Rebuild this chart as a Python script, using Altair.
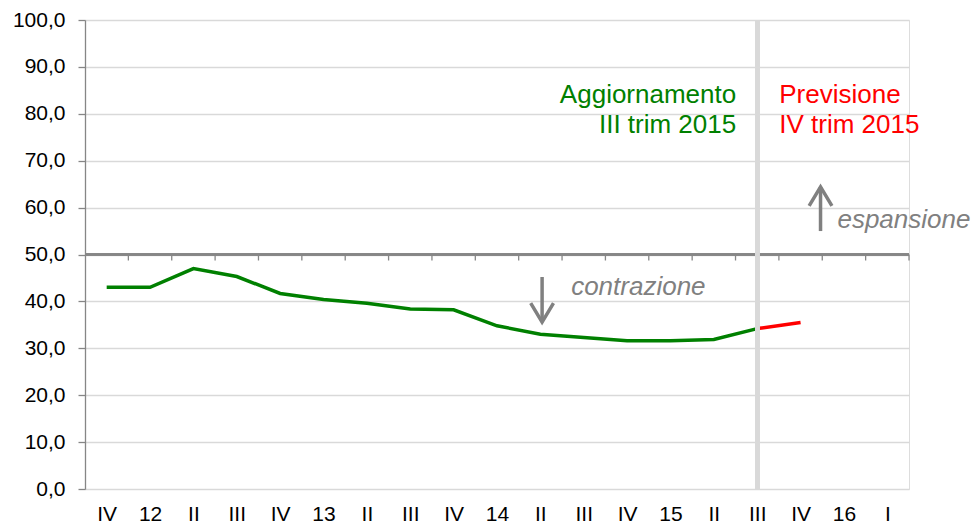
import json
import altair as alt
import pandas as pd

# ---- data ----
labels = ["IV", "12", "II", "III", "IV", "13", "II", "III", "IV", "14",
          "II", "III", "IV", "15", "II", "III", "IV", "16", "I"]
green_values = [43.0, 43.0, 47.0, 45.3, 41.7, 40.4, 39.6, 38.4, 38.2, 34.8,
                33.0, 32.3, 31.6, 31.6, 31.9, 34.2]
red_idx = [15, 16]
red_values = [34.2, 35.5]
y_ticks = [0, 10, 20, 30, 40, 50, 60, 70, 80, 90, 100]
split_idx = 15

FONT = "Liberation Sans"
W, H = 824, 469
TICK_PX = 6

green_df = pd.DataFrame({"i": list(range(len(green_values))), "v": green_values})
red_df = pd.DataFrame({"i": red_idx, "v": red_values})
bound_df = pd.DataFrame({"b": [i + 0.5 for i in range(len(labels))]})

text_df = pd.DataFrame({
    "t": ["Aggiornamento", "III trim 2015", "Previsione", "IV trim 2015"],
    "x": [split_idx] * 4,
    "y": [82.2, 75.8, 82.2, 75.8],
    "c": ["#008000", "#008000", "#ff0000", "#ff0000"],
    "align": ["right", "right", "left", "left"],
})
italic_df = pd.DataFrame({"t": ["contrazione", "espansione"], "x": [10.71, 16.85], "y": [41.4, 55.6]})
shaft_df = pd.DataFrame({"x": [10.04, 16.46], "y1": [45.2, 55.0], "y2": [35.6, 64.4]})
down_head = pd.DataFrame({"x": [10.04], "y": [35.6]})
up_head = pd.DataFrame({"x": [16.46], "y": [64.4]})

xscale = alt.Scale(domain=[-0.5, len(labels) - 0.5], nice=False, zero=False)
yscale = alt.Scale(domain=[0, 100], nice=False)

label_expr = json.dumps(labels) + "[datum.value]"

base_x = alt.X("i:Q", scale=xscale,
               axis=alt.Axis(values=list(range(len(labels))), labelExpr=label_expr,
                             grid=False, domain=False, ticks=False, labelPadding=14,
                             labelFont=FONT, labelFontSize=21, labelColor="#000000",
                             title=None, labelFlush=False))
base_y = alt.Y("v:Q", scale=yscale,
               axis=alt.Axis(values=y_ticks,
                             labelExpr="replace(format(datum.value, '.1f'), '.', ',')",
                             grid=True, gridColor="#d9d9d9", gridWidth=1.3,
                             domain=True, domainColor="#868686", domainWidth=1.3,
                             ticks=True, tickColor="#868686", tickSize=7, tickWidth=1.3,
                             labelPadding=13, labelFont=FONT, labelFontSize=21,
                             labelColor="#000000", title=None))

green = alt.Chart(green_df).mark_line(color="#008000", strokeWidth=3.5).encode(x=base_x, y=base_y)
red = alt.Chart(red_df).mark_line(color="#ff0000", strokeWidth=3.5).encode(
    x=alt.X("i:Q", scale=xscale), y=alt.Y("v:Q", scale=yscale))

axis50 = alt.Chart(bound_df).mark_rule(color="#868686", strokeWidth=1.5).encode(
    y=alt.datum(50, scale=yscale), x=alt.value(0), x2=alt.value(W))
ticks50 = alt.Chart(bound_df).mark_rule(color="#868686", strokeWidth=1.3).encode(
    x=alt.X("b:Q", scale=xscale), y=alt.datum(50, scale=yscale),
    y2=alt.datum(50 - TICK_PX * 100 / H))

split = alt.Chart(bound_df).mark_rule(color="#d9d9d9", strokeWidth=4).encode(
    x=alt.datum(split_idx, scale=xscale), y=alt.value(0), y2=alt.value(H))

texts_r = alt.Chart(text_df[text_df["align"] == "right"]).mark_text(
    align="right", baseline="alphabetic", font=FONT, fontSize=26, dx=-21).encode(
    x=alt.X("x:Q", scale=xscale), y=alt.Y("y:Q", scale=yscale),
    text="t:N", color=alt.Color("c:N", scale=None))
texts_l = alt.Chart(text_df[text_df["align"] == "left"]).mark_text(
    align="left", baseline="alphabetic", font=FONT, fontSize=26, dx=22).encode(
    x=alt.X("x:Q", scale=xscale), y=alt.Y("y:Q", scale=yscale),
    text="t:N", color=alt.Color("c:N", scale=None))
italics = alt.Chart(italic_df).mark_text(
    align="left", baseline="alphabetic", font=FONT, fontSize=26, fontStyle="italic",
    color="#808080").encode(
    x=alt.X("x:Q", scale=xscale), y=alt.Y("y:Q", scale=yscale), text="t:N")

shafts = alt.Chart(shaft_df).mark_rule(color="#808080", strokeWidth=3.5).encode(
    x=alt.X("x:Q", scale=xscale), y=alt.Y("y1:Q", scale=yscale), y2="y2:Q")
head_d = alt.Chart(down_head).mark_point(
    shape="M -0.6,-1 L 0,0 L 0.6,-1", filled=False, size=1444, strokeWidth=3.5,
    color="#808080", opacity=1).encode(x=alt.X("x:Q", scale=xscale), y=alt.Y("y:Q", scale=yscale))
head_u = alt.Chart(up_head).mark_point(
    shape="M -0.6,1 L 0,0 L 0.6,1", filled=False, size=1444, strokeWidth=3.5,
    color="#808080", opacity=1).encode(x=alt.X("x:Q", scale=xscale), y=alt.Y("y:Q", scale=yscale))

chart = alt.layer(
    green, axis50, ticks50, red, split, texts_r, texts_l, italics, shafts, head_d, head_u
).properties(
    width=W, height=H,
    autosize=alt.AutoSizeParams(type="none"),
    padding={"left": 77, "top": 12, "right": 63, "bottom": 34},
).configure_view(stroke=None).configure(background="white")

chart.save("out.html", embed_options={"renderer": "svg", "actions": False})
